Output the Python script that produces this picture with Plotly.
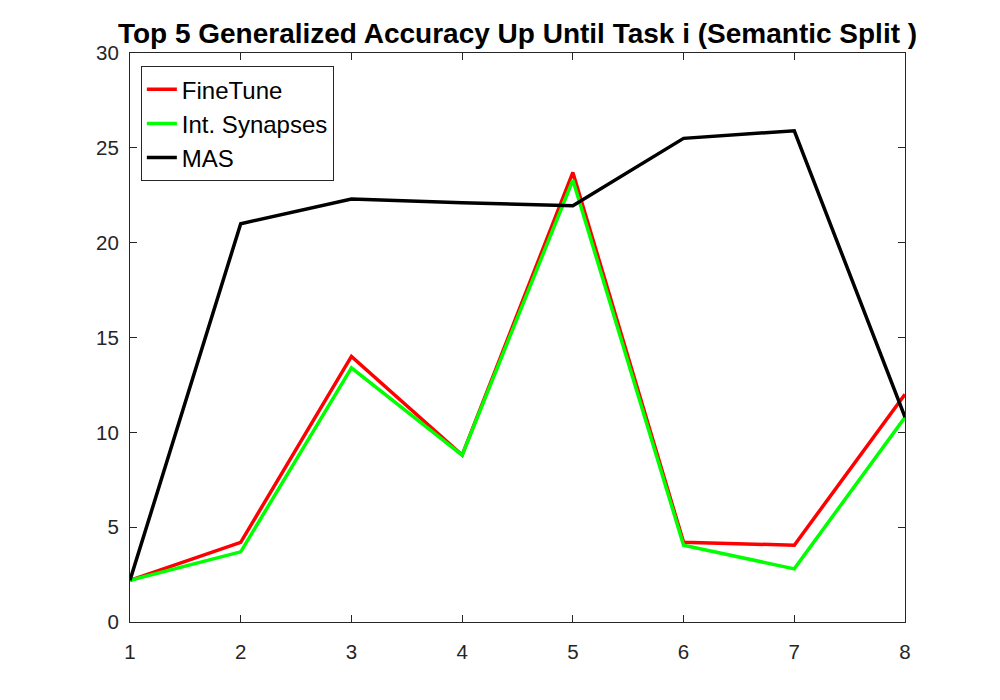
import plotly.graph_objects as go

tasks = [1, 2, 3, 4, 5, 6, 7, 8]
finetune = [2.2, 4.2, 14.0, 8.8, 23.7, 4.2, 4.05, 12.0]
int_synapses = [2.2, 3.7, 13.4, 8.8, 23.3, 4.05, 2.8, 10.8]
mas = [2.2, 21.0, 22.3, 22.1, 21.95, 25.5, 25.9, 10.8]

series = [
    ("FineTune", finetune, "#ff0000"),
    ("Int. Synapses", int_synapses, "#00ff00"),
    ("MAS", mas, "#000000"),
]

fig = go.Figure()
for name, vals, col in series:
    fig.add_trace(go.Scatter(x=tasks, y=vals, mode="lines", name=name,
                             line=dict(color=col, width=3.5)))

axis_style = dict(showline=True, mirror="ticks", linecolor="#262626", linewidth=1,
                  ticks="inside", ticklen=7, tickcolor="#262626", showgrid=False,
                  zeroline=False, tickfont=dict(size=20.5, color="#262626"))

fig.update_layout(
    width=1000, height=700,
    margin=dict(l=122, r=103, t=45, b=86),
    paper_bgcolor="white", plot_bgcolor="white",
    font=dict(family="Liberation Sans, Arial, sans-serif"),
    title=dict(text="<b>Top 5 Generalized Accuracy Up Until Task i (Semantic Split )</b>",
               xref="paper", x=0.5, xanchor="center",
               yref="container", y=0.964, yanchor="middle",
               font=dict(size=28, color="black")),
    legend=dict(x=0.014, y=0.977, xanchor="left", yanchor="top",
                bordercolor="#262626", borderwidth=1, bgcolor="white",
                font=dict(size=24, color="black"), tracegroupgap=0),
    showlegend=True,
)
fig.update_xaxes(range=[1, 8], dtick=1, ticklabelstandoff=11, **axis_style)
fig.update_yaxes(range=[0, 30], dtick=5, ticklabelstandoff=6, **axis_style)

fig.write_html("out.html")
